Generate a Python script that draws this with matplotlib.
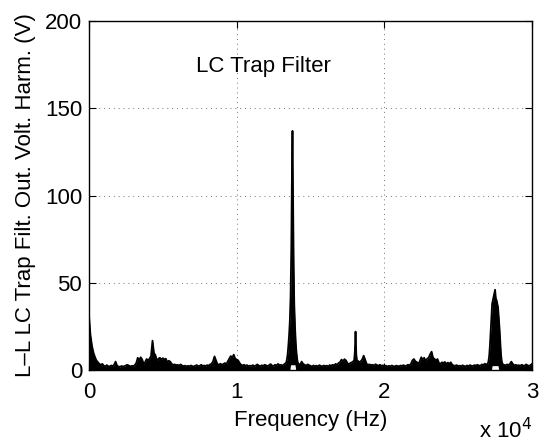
import numpy as np
import matplotlib
matplotlib.use('Agg')
import matplotlib.pyplot as plt

plt.rcParams['font.family'] = ['Liberation Sans', 'DejaVu Sans']

# harmonic spectrum, one value every 100 Hz (0 .. 30 kHz)
grid_step = 100
noise_amp = [
    31, 20, 14, 10, 7.5, 5.5, 4.5, 3.5, 3, 3.5,          # 0 k
    2.5, 2, 2.8, 2.2, 2, 2.6, 2.2, 3, 4.8, 2.5,          # 1 k
    2, 1.8, 2.3, 2, 2.2, 2.6, 3, 2.5, 2, 2.4,            # 2 k
    2.2, 2.8, 4, 7, 5.5, 7.3, 6, 3.5, 4.5, 6.3,          # 3 k
    5.5, 6.5, 8, 16.8, 9.7, 8.5, 5, 6.5, 7, 6,           # 4 k
    6.8, 6, 6.5, 4.5, 5.3, 4.8, 3.5, 3, 3.2, 2.8,        # 5 k
    3, 2.5, 3.2, 2.6, 2.2, 2.5, 2, 2.4, 2.1, 2.6,        # 6 k
    2.2, 2, 2.5, 2.8, 2.2, 2.4, 3, 2.3, 2.6, 2.2,        # 7 k
    2.8, 2.5, 3.2, 3.5, 5, 7.8, 5.5, 3.4, 3, 3.6,        # 8 k
    3, 3.4, 4, 3.2, 5, 6.5, 8, 7, 8.8, 6.5,              # 9 k
    6, 5.5, 4, 3, 2.6, 3, 2.4, 2.8, 2.2, 2.5,            # 10 k
    2.3, 2.8, 2.1, 2.6, 3.2, 2.5, 2.2, 2.7, 2.4, 3,      # 11 k
    2.6, 2.2, 2.8, 3.4, 2.5, 2.3, 3, 2.6, 3.5, 2.8,      # 12 k
    3, 2.5, 3.2, 3.8, 4, 4, 4, 4, 4, 4,                  # 13 k
    4, 4, 3.5, 3, 4.8, 3.5, 3, 2.5, 3.2, 2.8,            # 14 k
    2.4, 2, 2.6, 2.2, 2.5, 2, 2.8, 2.3, 2.1, 2.6,        # 15 k
    2.2, 2.5, 2, 2.8, 2.4, 3, 2.6, 3.5, 3, 4,            # 16 k
    4.5, 6, 5, 6.2, 5.5, 4, 3.2, 4, 4.4, 5,              # 17 k
    5, 5, 5.3, 4.5, 5, 6, 8.2, 6, 3.5, 3,                # 18 k
    3.2, 2.8, 3, 2.6, 3.3, 2.8, 2.5, 3, 2.4, 2.7,        # 19 k
    2.2, 2.5, 2, 2.4, 2.1, 2.6, 2.2, 2, 2.5, 2.3,        # 20 k
    2.1, 2.6, 2.3, 2.8, 2.2, 2.5, 3, 2.7, 3.5, 5.5,      # 21 k
    6.3, 5, 4.5, 3.5, 5, 7.3, 6, 7, 5, 6.5,              # 22 k
    7, 9, 10.5, 7, 6.3, 5.5, 6.3, 4, 3.5, 4.4,           # 23 k
    4, 4.6, 3.5, 4.2, 3.6, 4.4, 3, 2.6, 2.4, 2.8,        # 24 k
    2.2, 2.5, 2.1, 2.7, 2.3, 2, 2.6, 2.2, 2.8, 2.4,      # 25 k
    2.3, 2.8, 2.5, 3, 2.6, 2.4, 3.2, 2.8, 3.6, 3.2,      # 26 k
    3.5, 3.5, 3.5, 3.5, 3.5, 3.5, 3.5, 3.5, 3.5, 3.5,    # 27 k
    3.5, 3, 2.6, 3.2, 2.8, 3.5, 4.8, 3.5, 2.6, 3,        # 28 k
    2.5, 2.8, 2.3, 3, 2.6, 2.4, 3.2, 2.7, 2.3, 2.8,      # 29 k
    3.5,
]

# finer detail around the switching peaks
main_peak_freq = [13350, 13400, 13450, 13500, 13550, 13600, 13650, 13700, 13740,
                  13780, 13820, 13860, 13900, 13950, 14000, 14050, 14100, 14150]
main_peak_amp = [4, 6, 9, 14, 20, 28, 42, 70, 110, 137, 100, 60, 38, 25, 16, 10, 6, 4]

spur_freq = [17950, 18000, 18050, 18100, 18150]
spur_amp = [5, 10, 22, 9, 5]

cluster_freq = [27000, 27050, 27100, 27150, 27200, 27250, 27300, 27350, 27400, 27450,
                27500, 27550, 27600, 27650, 27700, 27750, 27800, 27850, 27900, 27950]
cluster_amp = [3.5, 5, 8, 14, 22, 30, 38, 40, 42, 44, 46, 41, 40, 38, 36, 30, 24, 16, 9, 5]

# white gaps under the big peaks (trace never touches zero there)
notch_lo = [13620, 27280]
notch_hi = [13960, 27740]
notch_depth = [3, 2.5]

x_ticks = [0, 10000, 20000, 30000]
x_labels = ['0', '1', '2', '3']
y_ticks = [0, 50, 100, 150, 200]

freq_grid = np.arange(len(noise_amp)) * grid_step
amp_grid = np.array(noise_amp, dtype=float)
keep = np.ones(len(freq_grid), dtype=bool)
for pf in (main_peak_freq, spur_freq, cluster_freq):
    keep &= ~((freq_grid >= min(pf)) & (freq_grid <= max(pf)))

freq = np.concatenate([freq_grid[keep], main_peak_freq, spur_freq, cluster_freq])
amp = np.concatenate([amp_grid[keep], main_peak_amp, spur_amp, cluster_amp])
order = np.argsort(freq)
freq = freq[order]
amp = amp[order]

lower = np.zeros_like(amp)
for lo, hi, d in zip(notch_lo, notch_hi, notch_depth):
    lower[(freq >= lo) & (freq <= hi)] = d

fig = plt.figure(figsize=(5.45, 4.46), dpi=100)
ax = fig.add_axes([89 / 545, 76 / 446, 443 / 545, 349 / 446])

ax.fill_between(freq, lower, amp, color='k', lw=0, zorder=2)
ax.plot(freq, amp, color='k', lw=1.3, zorder=3)

ax.set_xlim(0, 30000)
ax.set_ylim(0, 200)
ax.set_xticks(x_ticks)
ax.set_xticklabels(x_labels)
ax.set_yticks(y_ticks)
ax.tick_params(direction='in', top=True, right=True, length=5, labelsize=16)
ax.tick_params(axis='x', pad=9)
ax.tick_params(axis='y', pad=5)
ax.grid(True, color='0.45', linestyle=(0, (1, 4)), lw=0.7, zorder=1)
for s in ax.spines.values():
    s.set_linewidth(1.0)

ax.text(11800, 174, 'LC Trap Filter', ha='center', va='center', fontsize=16)
ax.set_xlabel('Frequency (Hz)', fontsize=16, labelpad=5)
ax.set_ylabel('L\u2013L LC Trap Filt. Out. Volt. Harm. (V)', fontsize=16, labelpad=6)
ax.text(1.0, -0.175, r'x 10$^4$', transform=ax.transAxes, ha='right', va='center',
        fontsize=16)

fig.savefig('out.png', dpi=100)
